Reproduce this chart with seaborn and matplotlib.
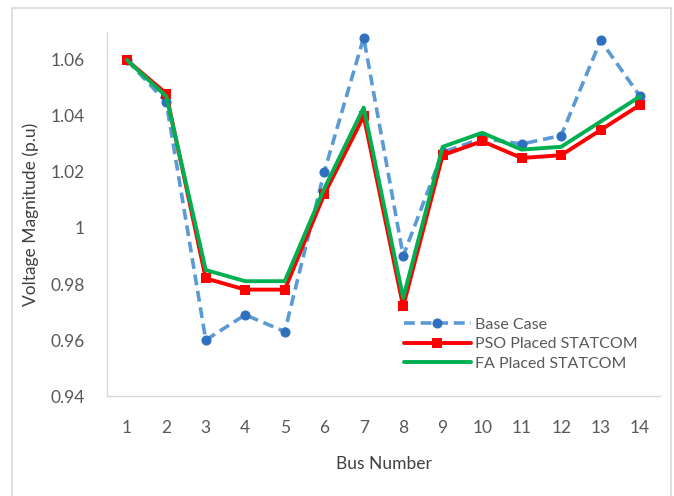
import pandas as pd
import seaborn as sns
import matplotlib.pyplot as plt
from matplotlib.patches import Rectangle

# data
bus = list(range(1, 15))
base_case = [1.060, 1.045, 0.960, 0.969, 0.963, 1.020, 1.068, 0.990, 1.027, 1.032, 1.030, 1.033, 1.067, 1.047]
pso = [1.060, 1.048, 0.982, 0.978, 0.978, 1.012, 1.040, 0.972, 1.026, 1.031, 1.025, 1.026, 1.035, 1.044]
fa = [1.060, 1.047, 0.985, 0.981, 0.981, 1.014, 1.043, 0.975, 1.029, 1.034, 1.028, 1.029, 1.038, 1.047]
yticks = [0.94, 0.96, 0.98, 1.00, 1.02, 1.04, 1.06]
ytick_labels = ['0.94', '0.96', '0.98', '1', '1.02', '1.04', '1.06']

df = pd.DataFrame({'Bus': bus, 'Base': base_case, 'PSO': pso, 'FA': fa})

sns.set_style('white')
plt.rcParams['font.family'] = ['Lato', 'DejaVu Sans']

fig = plt.figure(figsize=(6.74, 4.96), dpi=100)
ax = fig.add_axes([0.1588, 0.2016, 0.8202, 0.7339])

sns.lineplot(data=df, x='Bus', y='Base', ax=ax, color='#5B9BD5', linewidth=2.6,
             linestyle=(0, (3, 1.6)), marker='o', markersize=6.5,
             markerfacecolor='#2F6FBF', markeredgecolor='#2F6FBF', label='Base Case')
sns.lineplot(data=df, x='Bus', y='PSO', ax=ax, color='#FF0000', linewidth=2.8,
             marker='s', markersize=7, markeredgewidth=0, label='PSO Placed STATCOM')
sns.lineplot(data=df, x='Bus', y='FA', ax=ax, color='#00B050', linewidth=2.8,
             label='FA Placed STATCOM')

ax.set_xlim(0.5, 14.5)
ax.set_ylim(0.94, 1.07)
ax.set_xticks(bus)
ax.set_xticklabels([str(b) for b in bus])
ax.set_yticks(yticks)
ax.set_yticklabels(ytick_labels)
ax.tick_params(axis='both', length=0, labelsize=12.5, labelcolor='#595959')
ax.tick_params(axis='x', pad=17)
ax.tick_params(axis='y', pad=16)

for s in ['top', 'right']:
    ax.spines[s].set_visible(False)
for s in ['left', 'bottom']:
    ax.spines[s].set_color('#D9D9D9')
    ax.spines[s].set_linewidth(1.0)

ax.set_xlabel('Bus Number', fontsize=12.5, color='#404040', labelpad=15)
ax.set_ylabel('Voltage Magnitude (p.u)', fontsize=12.5, color='#404040', labelpad=8)

ax.legend(loc='upper left', bbox_to_anchor=(0.522, 0.238), frameon=False,
          fontsize=11.5, labelcolor='#595959', handlelength=4.2,
          handletextpad=0.3, labelspacing=0.35, borderpad=0)

fig.patches.append(Rectangle((12 / 674, -0.01), 659 / 674, 1 - 8 / 496 + 0.01,
                             transform=fig.transFigure, fill=False,
                             edgecolor='#D9D9D9', linewidth=1.2))

fig.savefig('out.png', dpi=100)
